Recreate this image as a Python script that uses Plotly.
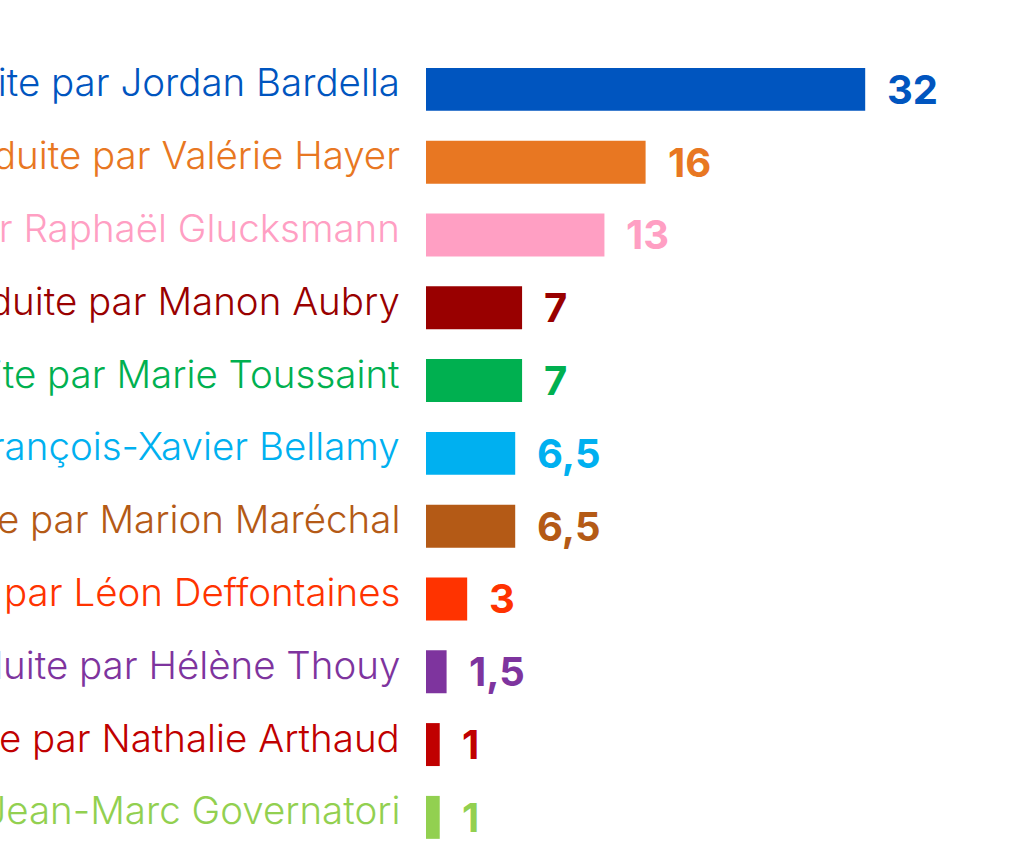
import plotly.graph_objects as go

# Sièges projetés par liste
listes = [
    "Liste conduite par Jordan Bardella",
    "Liste conduite par Valérie Hayer",
    "Liste conduite par Raphaël Glucksmann",
    "Liste conduite par Manon Aubry",
    "Liste conduite par Marie Toussaint",
    "Liste conduite par François-Xavier Bellamy",
    "Liste conduite par Marion Maréchal",
    "Liste conduite par Léon Deffontaines",
    "Liste conduite par Hélène Thouy",
    "Liste conduite par Nathalie Arthaud",
    "Liste conduite par Jean-Marc Governatori",
]
valeurs = [32, 16, 13, 7, 7, 6.5, 6.5, 3, 1.5, 1, 1]
etiquettes = ["32", "16", "13", "7", "7", "6,5", "6,5", "3", "1,5", "1", "1"]
couleurs = [
    "#0055BF", "#E87722", "#FF9FC3", "#990000", "#00B050", "#00B0F0",
    "#B45A16", "#FF3300", "#7E349E", "#C00000", "#92D050",
]

FONT = "Inter"

fig = go.Figure()
fig.add_trace(
    go.Bar(
        x=valeurs,
        y=listes,
        orientation="h",
        marker_color=couleurs,
        marker_line_width=0,
        hoverinfo="skip",
    )
)

for nom, val, txt, col in zip(listes, valeurs, etiquettes, couleurs):
    # valeur à droite de la barre
    fig.add_annotation(
        x=val, y=nom, text=txt, showarrow=False,
        xanchor="left", xshift=20, yshift=0,
        font=dict(family=FONT, size=40, color=col, weight="bold"),
    )
    # nom de la liste, aligné à droite devant la barre (coupé au bord gauche)
    fig.add_annotation(
        x=0, xref="paper", y=nom, text=nom, showarrow=False,
        xanchor="right", xshift=-24, yshift=7,
        font=dict(family=FONT, size=38.5, color=col, weight=300),
    )

fig.update_layout(
    width=1009,
    height=847,
    margin=dict(l=426, r=34, t=53, b=0),
    paper_bgcolor="white",
    plot_bgcolor="white",
    bargap=0.41,
    showlegend=False,
    font=dict(family=FONT),
)
fig.update_xaxes(range=[0, 40], visible=False, showgrid=False, zeroline=False)
fig.update_yaxes(
    range=[10.407, -0.5],
    showticklabels=False,
    showgrid=False,
    zeroline=False,
    showline=False,
    ticks="",
)

fig.write_html(
    "out.html",
    config={"displayModeBar": False},
    post_script="document.body.style.margin='0';",
)
